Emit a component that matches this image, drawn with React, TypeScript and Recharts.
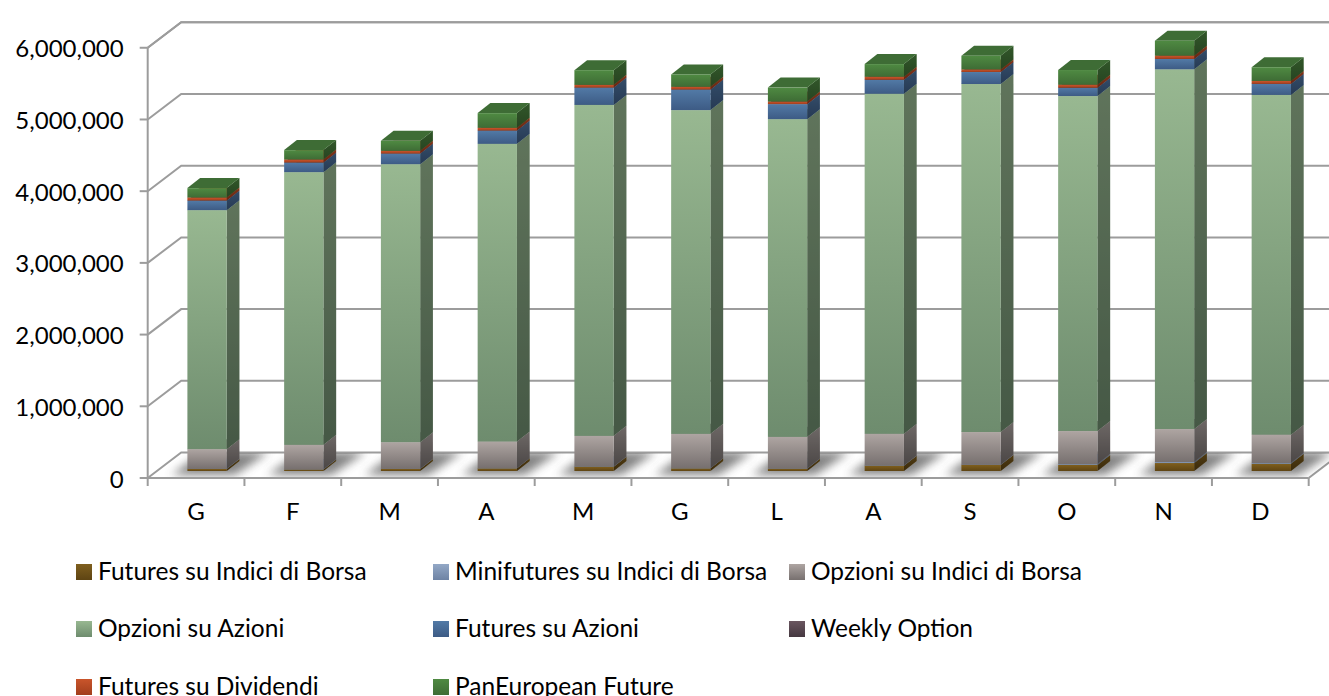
import { BarChart, Bar, XAxis, YAxis, CartesianGrid, Legend } from 'recharts'

const MONTHS = ['G', 'F', 'M', 'A', 'M', 'G', 'L', 'A', 'S', 'O', 'N', 'D']

const SERIES = [
  'Futures su Indici di Borsa',
  'Minifutures su Indici di Borsa',
  'Opzioni su Indici di Borsa',
  'Opzioni su Azioni',
  'Futures su Azioni',
  'Weekly Option',
  'Futures su Dividendi',
  'PanEuropean Future',
]

const futuresIndici = [28000, 21000, 28000, 38000, 60000, 38000, 32000, 74000, 84000, 85000, 111000, 100000]
const minifutures = [2000, 2000, 2000, 2000, 2000, 2000, 2000, 3000, 3000, 12000, 14000, 12000]
const opzioniIndici = [275000, 342000, 372000, 371000, 428000, 478000, 442000, 442000, 456000, 460000, 460000, 395000]
const opzioniAzioni = [3333000, 3803000, 3877000, 4152000, 4616000, 4515000, 4431000, 4742000, 4854000, 4672000, 5017000, 4738000]
const futuresAzioni = [134000, 134000, 148000, 185000, 241000, 287000, 209000, 195000, 167000, 116000, 144000, 153000]
const weeklyOption = [1000, 1000, 1000, 1000, 1000, 1000, 1000, 1000, 1000, 1000, 1000, 1000]
const futuresDividendi = [41000, 41000, 37000, 37000, 37000, 37000, 35000, 41000, 35000, 41000, 45000, 41000]
const panEuropean = [131000, 131000, 139000, 205000, 205000, 172000, 195000, 177000, 191000, 205000, 209000, 191000]

const VALUES = [
  futuresIndici,
  minifutures,
  opzioniIndici,
  opzioniAzioni,
  futuresAzioni,
  weeklyOption,
  futuresDividendi,
  panEuropean,
]

const Y_TICKS = [0, 1000000, 2000000, 3000000, 4000000, 5000000, 6000000]

const GRADIENTS = [
  ['#7F5F1E', '#5E4413'],
  ['#93A8C6', '#6E83A4'],
  ['#AEA5A2', '#77706F'],
  ['#98B891', '#6E8C6E'],
  ['#527AA6', '#3D5B85'],
  ['#6A5660', '#453840'],
  ['#C9552B', '#A23E1D'],
  ['#4F8A42', '#3E6C35'],
]

const chartData = MONTHS.map((month, i) => {
  const row: any = { month, key: i }
  SERIES.forEach((name, s) => {
    row[name] = VALUES[s][i]
  })
  return row
})

const LINE = '#9C9C9C'
const FONT = 'Lato, sans-serif'

// the 3d look: walls go back by this much, the bars stand halfway in
const WALL_X = 33.5
const WALL_Y = 25.5
const BAR_DX = 10.7
const BAR_DY = 7
const DEPTH_X = 12.7
const DEPTH_Y = 10

const gridLine = (props: any) => {
  const { x1, x2, y1 } = props
  const back = `M${x1},${y1} L${x1 + WALL_X},${y1 - WALL_Y} L${x2 + WALL_X},${y1 - WALL_Y}`
  const isFloor = y1 > 470
  return (
    <path
      key={`grid-${y1}`}
      d={isFloor ? `${back} M${x2},${y1} L${x2 + WALL_X},${y1 - WALL_Y}` : back}
      fill="none"
      stroke={LINE}
      strokeWidth={2}
    />
  )
}

function Box(props: any) {
  const { x, y, width, height, index, seriesIndex } = props
  const fx = x + BAR_DX
  const fy = y - BAR_DY
  const right = fx + width
  const bottom = fy + height
  const side = `${right},${fy} ${right + DEPTH_X},${fy - DEPTH_Y} ${right + DEPTH_X},${bottom - DEPTH_Y} ${right},${bottom}`
  const top = `${fx},${fy} ${right},${fy} ${right + DEPTH_X},${fy - DEPTH_Y} ${fx + DEPTH_X},${fy - DEPTH_Y}`
  const fill = `url(#grad-${seriesIndex})`
  return (
    <g>
      {seriesIndex === 0 && (
        <g clipPath="url(#floorClip)">
          <polygon
            points={`${fx - 16},475 ${right + 8},475 ${right + 42},452 ${fx + 16},452`}
            fill="#4A4A4A"
            opacity={0.68}
            filter="url(#floorBlur)"
          />
        </g>
      )}
      <polygon points={side} fill={fill} />
      <polygon points={side} fill="#000" opacity={0.37} />
      <polygon points={top} fill={GRADIENTS[seriesIndex][1]} />
      <rect x={fx} y={fy} width={width} height={height} fill={fill} key={index} />
    </g>
  )
}

function MonthTick(props: any) {
  const { x, y, payload, index } = props
  const band = 96.75
  return (
    <g>
      <line x1={x - band / 2} x2={x - band / 2} y1={y} y2={y + 8} stroke={LINE} strokeWidth={2} />
      {index === MONTHS.length - 1 && (
        <line x1={x + band / 2} x2={x + band / 2} y1={y} y2={y + 8} stroke={LINE} strokeWidth={2} />
      )}
      <text x={x} y={y + 41.5} textAnchor="middle" fontSize={24} fontFamily={FONT} fill="#000">
        {MONTHS[payload.value]}
      </text>
    </g>
  )
}

const LEGEND_X = [76, 433, 789]
const LEGEND_Y = [564, 621, 679]

function ChartLegend() {
  return (
    <div>
      {SERIES.map((name, i) => (
        <div
          key={name}
          style={{
            position: 'absolute',
            left: LEGEND_X[i % 3],
            top: LEGEND_Y[Math.floor(i / 3)],
            height: 16,
            display: 'flex',
            alignItems: 'center',
            whiteSpace: 'nowrap',
            fontFamily: FONT,
            fontSize: 24.5,
            color: '#000',
          }}
        >
          <span
            style={{
              width: 16,
              height: 16,
              marginRight: 6,
              background: `linear-gradient(${GRADIENTS[i][0]}, ${GRADIENTS[i][1]})`,
            }}
          />
          <span style={{ position: 'relative', top: -2 }}>{name}</span>
        </div>
      ))}
    </div>
  )
}

export default function App() {
  return (
    <div style={{ position: 'fixed', left: 0, top: 0, width: 1329, height: 696, overflow: 'hidden', background: '#fff' }}>
      <BarChart
        width={1329}
        height={696}
        data={chartData}
        margin={{ top: 47.7, right: 20.3, bottom: 0, left: 0 }}
        barSize={39.3}
      >
        <defs>
          {GRADIENTS.map(([from, to], i) => (
            <linearGradient key={i} id={`grad-${i}`} x1="0" y1="0" x2="0" y2="1">
              <stop offset="0%" stopColor={from} />
              <stop offset="100%" stopColor={to} />
            </linearGradient>
          ))}
          <filter id="floorBlur" x="-30%" y="-60%" width="160%" height="220%">
            <feGaussianBlur stdDeviation="5" />
          </filter>
          <clipPath id="floorClip">
            <polygon points="148,478 181,453 1342,453 1309,478" />
          </clipPath>
        </defs>
        <CartesianGrid vertical={false} horizontal={gridLine} />
        <XAxis
          dataKey="key"
          height={218}
          tick={<MonthTick />}
          tickLine={false}
          tickSize={0}
          tickMargin={0}
          interval={0}
          axisLine={{ stroke: LINE, strokeWidth: 2 }}
        />
        <YAxis
          width={147.7}
          domain={[0, 6000000]}
          ticks={Y_TICKS}
          tickSize={8}
          tickMargin={16}
          tickFormatter={(v: number) => v.toLocaleString('en-US')}
          tick={{ fontSize: 24, fontFamily: FONT, fill: '#000', dy: 1 }}
          tickLine={{ stroke: LINE, strokeWidth: 2 }}
          axisLine={{ stroke: LINE, strokeWidth: 2 }}
        />
        <Legend verticalAlign="middle" content={<ChartLegend />} wrapperStyle={{ position: 'absolute', left: 0, top: 0, width: 0, height: 0 }} />
        {SERIES.map((name, s) => (
          <Bar
            key={name}
            dataKey={name}
            stackId="tot"
            isAnimationActive={false}
            shape={(p: any) => <Box {...p} seriesIndex={s} />}
          />
        ))}
      </BarChart>
    </div>
  )
}
